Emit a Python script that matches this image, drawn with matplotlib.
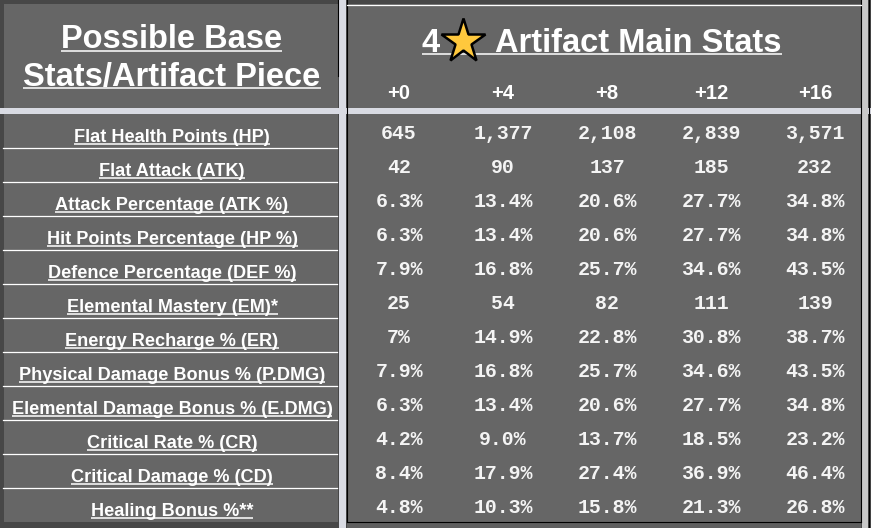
import matplotlib
matplotlib.use('Agg')
import matplotlib.pyplot as plt
from matplotlib.patches import Rectangle

stats = ['Flat Health Points (HP)', 'Flat Attack (ATK)', 'Attack Percentage (ATK %)',
         'Hit Points Percentage (HP %)', 'Defence Percentage (DEF %)', 'Elemental Mastery (EM)*',
         'Energy Recharge % (ER)', 'Physical Damage Bonus % (P.DMG)',
         'Elemental Damage Bonus % (E.DMG)', 'Critical Rate % (CR)', 'Critical Damage % (CD)',
         'Healing Bonus %**']
levels = ['+0', '+4', '+8', '+12', '+16']
lvl0 = ['645', '42', '6.3%', '6.3%', '7.9%', '25', '7%', '7.9%', '6.3%', '4.2%', '8.4%', '4.8%']
lvl4 = ['1,377', '90', '13.4%', '13.4%', '16.8%', '54', '14.9%', '16.8%', '13.4%', '9.0%', '17.9%', '10.3%']
lvl8 = ['2,108', '137', '20.6%', '20.6%', '25.7%', '82', '22.8%', '25.7%', '20.6%', '13.7%', '27.4%', '15.8%']
lvl12 = ['2,839', '185', '27.7%', '27.7%', '34.6%', '111', '30.8%', '34.6%', '27.7%', '18.5%', '36.9%', '21.3%']
lvl16 = ['3,571', '232', '34.8%', '34.8%', '43.5%', '139', '38.7%', '43.5%', '34.8%', '23.2%', '46.4%', '26.8%']
columns = [lvl0, lvl4, lvl8, lvl12, lvl16]

W, H = 871, 528
fig = plt.figure(figsize=(W / 100, H / 100), dpi=100)
ax = fig.add_axes([0, 0, 1, 1])
ax.set_xlim(0, W)
ax.set_ylim(H, 0)
ax.axis('off')

grey = '#666666'
dark = '#474747'
light = '#d9dbe3'
sans = 'Liberation Sans'
mono = 'Liberation Mono'

def rect(x0, y0, x1, y1, c):
    ax.add_patch(Rectangle((x0, y0), x1 - x0, y1 - y0, color=c, lw=0))

# background panels and separators
rect(0, 0, W, H, dark)
rect(4, 4, 338, 522, grey)
rect(347, 4, 861, 522, grey)
rect(347, 522, 861, H, '#5f5f5f')
rect(339, 0, 346, H, light)
rect(0, 108, W, 114, light)
rect(862, 0, 868, H, '#c8c8c8')
ax.plot([346.5, 346.5], [0, 521.5], color='black', lw=0.8)
ax.plot([346.5, 861], [521.5, 521.5], color='black', lw=0.8)
ax.plot([861, 861], [0, 521.5], color='black', lw=0.8)
ax.plot([868.5, 868.5], [0, H], color='black', lw=0.8)
ax.plot([338, 338], [0, 76], color='black', lw=0.8)
ax.plot([347, 861], [4.5, 4.5], color='white', lw=0.9)

texts_to_underline = []

def txt(x, y, s, size, family=sans, ha='center', underline=False, color='white', weight='bold'):
    t = ax.text(x, y, s, fontsize=size, family=family, weight=weight, color=color,
                ha=ha, va='baseline')
    if underline:
        texts_to_underline.append((t, y))
    return t

# left header
txt(171.5, 48.5, 'Possible Base', 23.5, underline=True)
txt(172, 86, 'Stats/Artifact Piece', 23.5, underline=True)

# right header with star
star_x = 463
t4 = txt(star_x - 23, 51.5, '4', 23.5, ha='right')
ax.plot(star_x, 40.5, marker='*', ms=33, mfc='#FFC83D', mec='black', mew=1.8)
tr = txt(star_x + 32, 51.5, 'Artifact Main Stats', 23.5, ha='left')

col_x = [399 + 104 * i for i in range(len(levels))]
for x, lv in zip(col_x, levels):
    txt(x, 99, lv, 14.5)

# rows
row_top = 114
row_h = 34
for i, name in enumerate(stats):
    top = row_top + row_h * i
    txt(172, top + 27.5, name, 13.1, underline=True)
    if i > 0:
        ax.plot([3, 337], [top, top], color='white', lw=0.9)
    for x, col in zip(col_x, columns):
        txt(x, top + 25, col[i], 14.3, family=mono, color='#f4f4f4')

# underlines
fig.canvas.draw()
r = fig.canvas.get_renderer()
inv = ax.transData.inverted()
for t, y in texts_to_underline:
    bb = t.get_window_extent(r)
    x0 = inv.transform((bb.x0, 0))[0]
    x1 = inv.transform((bb.x1, 0))[0]
    ax.plot([x0, x1], [y + 2, y + 2], color='white', lw=1.1, solid_capstyle='butt')
b4 = t4.get_window_extent(r)
br = tr.get_window_extent(r)
ax.plot([inv.transform((b4.x0, 0))[0], inv.transform((br.x1, 0))[0]], [53.5, 53.5],
        color='white', lw=1.1, solid_capstyle='butt', zorder=1)

fig.savefig('out.png', dpi=100)
